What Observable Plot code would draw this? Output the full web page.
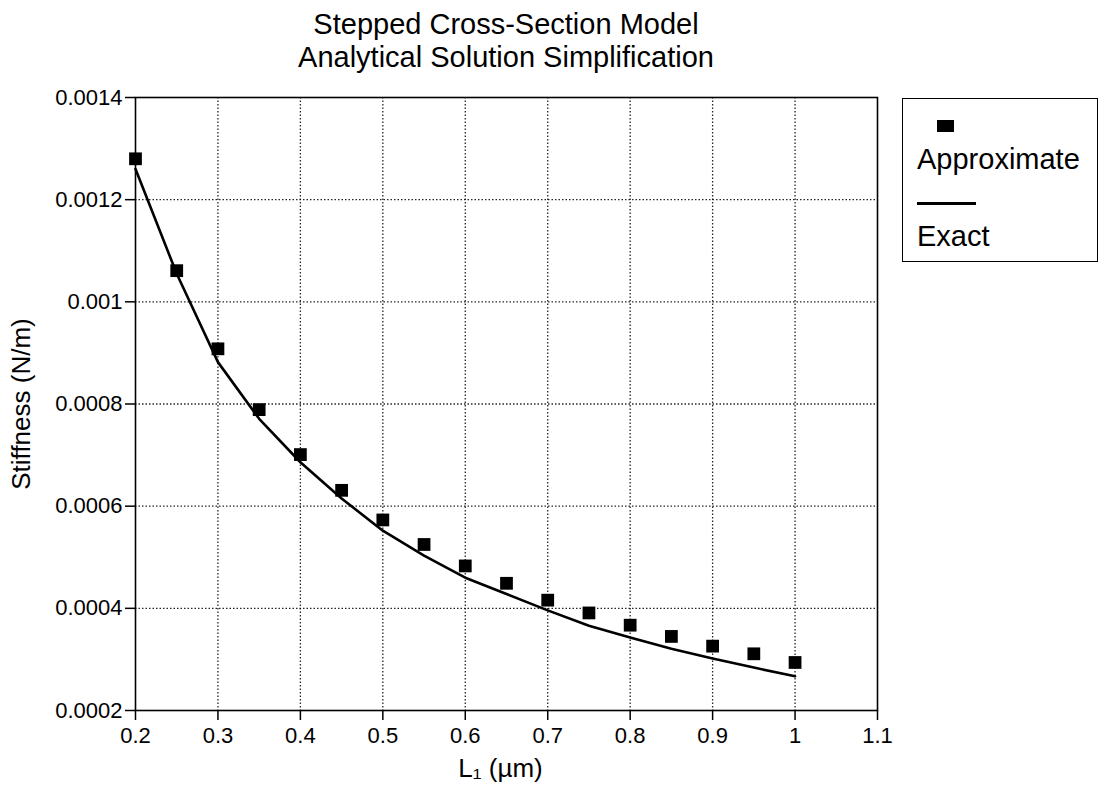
<!DOCTYPE html>
<html>
<head>
<meta charset="utf-8">
<script src="https://cdn.jsdelivr.net/npm/d3@7"></script>
<script src="https://cdn.jsdelivr.net/npm/@observablehq/plot@0.6"></script>
<style>
  html, body { margin: 0; padding: 0; background: #fff; }
  body { width: 1101px; height: 791px; position: relative; overflow: hidden;
         font-family: "Liberation Sans", Arial, Helvetica, sans-serif; color: #000; }
  #title { position: absolute; left: 135px; width: 742px; top: 8px; text-align: center;
           font-size: 29px; line-height: 33px; }
  #chart { position: absolute; left: 0; top: 80px; }
  #legend { position: absolute; left: 902px; top: 98px; width: 194px; height: 162px;
            border: 1.5px solid #000; font-size: 29px; }
  #legend .sq { position: absolute; left: 34px; top: 21px; width: 17px; height: 12px; background: #000; }
  #legend .ln { position: absolute; left: 14px; top: 103px; width: 59px; height: 2.5px; background: #000; }
  #legend .t { position: absolute; left: 14px; line-height: 29px; white-space: nowrap; }
</style>
</head>
<body>
<div id="title">Stepped Cross-Section Model<br>Analytical Solution Simplification</div>
<div id="chart"></div>
<div id="legend">
  <div class="sq"></div>
  <div class="t" style="top:46px">Approximate</div>
  <div class="ln"></div>
  <div class="t" style="top:123px">Exact</div>
</div>
<script>
// Data
const lengths = [0.2, 0.25, 0.3, 0.35, 0.4, 0.45, 0.5, 0.55, 0.6, 0.65, 0.7, 0.75, 0.8, 0.85, 0.9, 0.95, 1.0];
const approximate = [0.00128, 0.001061, 0.000908, 0.000789, 0.000701, 0.000631, 0.000573, 0.000525, 0.000483, 0.000449, 0.000416, 0.000391, 0.000367, 0.000345, 0.000326, 0.000311, 0.000294];
const exact = [0.00126, 0.001055, 0.000882, 0.000771, 0.000686, 0.000615, 0.000552, 0.000503, 0.00046, 0.000428, 0.000396, 0.000366, 0.000343, 0.000321, 0.000302, 0.000284, 0.000267];
const xTicks = [0.2, 0.3, 0.4, 0.5, 0.6, 0.7, 0.8, 0.9, 1.0, 1.1];
const yTicks = [0.0002, 0.0004, 0.0006, 0.0008, 0.001, 0.0012, 0.0014];
const xGrid = [0.3, 0.4, 0.5, 0.6, 0.7, 0.8, 0.9, 1.0];
const yGrid = [0.0004, 0.0006, 0.0008, 0.001, 0.0012];
const xLabel = "L\u2081 (\u00b5m)";
const yLabel = "Stiffness (N/m)";

const approxData = lengths.map((x, i) => ({x, y: approximate[i]}));
const exactData = lengths.map((x, i) => ({x, y: exact[i]}));
const fmt = d => String(+d.toFixed(4));

const chart = Plot.plot({
  width: 1101,
  height: 711,
  marginTop: 17,
  marginBottom: 81,
  marginLeft: 135,
  marginRight: 224,
  style: {fontSize: "22px", fontFamily: "'Liberation Sans', Arial, Helvetica, sans-serif", color: "#000", background: "#fff", overflow: "visible"},
  x: {domain: [0.2, 1.1]},
  y: {domain: [0.0002, 0.0014]},
  marks: [
    Plot.gridX(xGrid, {stroke: "#000", strokeOpacity: 0.85, strokeWidth: 1.3, strokeDasharray: "1.5,2"}),
    Plot.gridY(yGrid, {stroke: "#000", strokeOpacity: 0.85, strokeWidth: 1.3, strokeDasharray: "1.5,2"}),
    Plot.frame({stroke: "#000", strokeWidth: 1.6}),
    Plot.axisX({ticks: xTicks, tickFormat: fmt, tickSize: 10, tickPadding: 7, strokeWidth: 1.5, label: null}),
    Plot.axisY({ticks: yTicks, tickFormat: fmt, tickSize: 10, tickPadding: 3, strokeWidth: 1.5, label: null}),
    Plot.line(exactData, {x: "x", y: "y", stroke: "#000", strokeWidth: 2.6}),
    Plot.dot(approxData, {x: "x", y: "y", symbol: "square", r: 7.2, fill: "#000", stroke: "none"}),
    Plot.text([xLabel], {text: d => d, frameAnchor: "bottom", lineAnchor: "middle", textAnchor: "middle", dy: 58, dx: -6, fontSize: 26}),
    Plot.text([yLabel], {text: d => d, frameAnchor: "left", lineAnchor: "middle", textAnchor: "middle", rotate: -90, dx: -114, fontSize: 26})
  ]
});
document.getElementById("chart").appendChild(chart);
</script>
</body>
</html>
